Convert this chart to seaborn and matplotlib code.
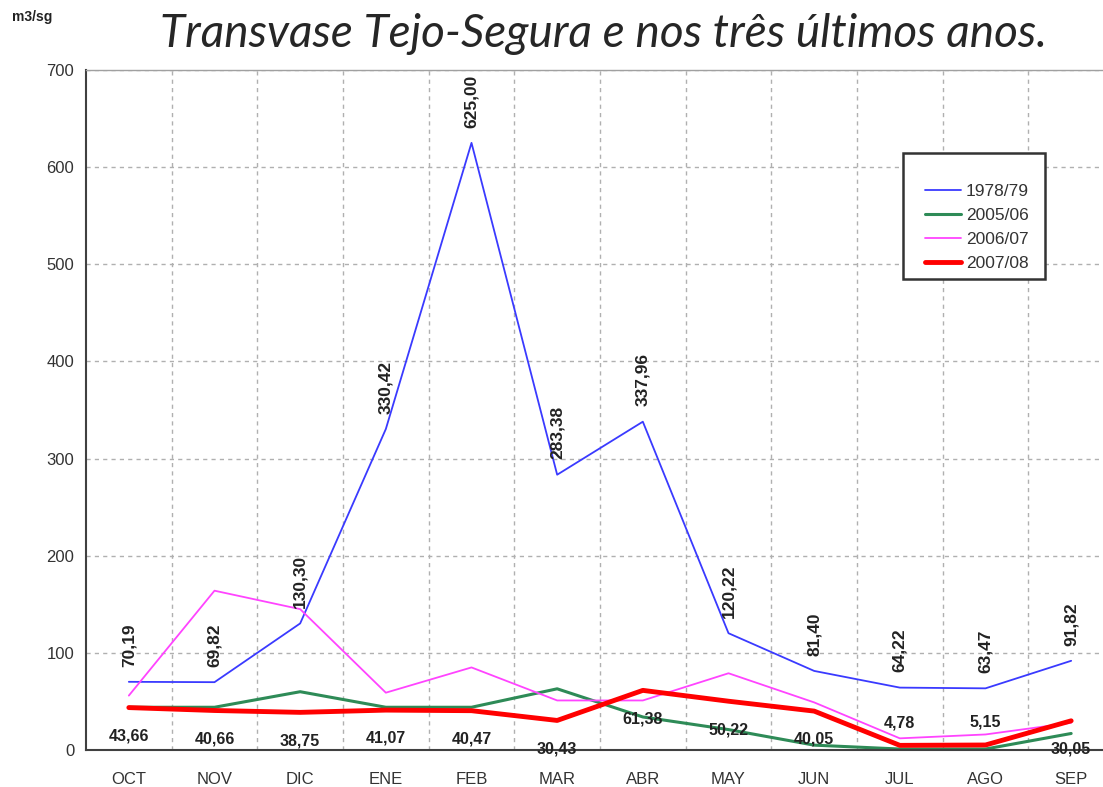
import matplotlib
matplotlib.use("Agg")
import matplotlib.pyplot as plt
import matplotlib.patches as mpatches
import seaborn as sns
import pandas as pd
import numpy as np

months = ["OCT", "NOV", "DIC", "ENE", "FEB", "MAR", "ABR", "MAY", "JUN", "JUL", "AGO", "SEP"]
s1978 = [70.19, 69.82, 130.30, 330.42, 625.00, 283.38, 337.96, 120.22, 81.40, 64.22, 63.47, 91.82]
s2005 = [44, 44, 60, 44, 44, 63, 34, 21, 5, 1, 1, 17]
s2006 = [56, 164, 145, 59, 85, 51, 51, 79, 49, 12, 16, 28]
s2007 = [43.66, 40.66, 38.75, 41.07, 40.47, 30.43, 61.38, 50.22, 40.05, 4.78, 5.15, 30.05]
series_names = ["1978/79", "2005/06", "2006/07", "2007/08"]
colors = ["#3a3aff", "#2e8b57", "#ff44ff", "#ff0000"]
widths = [1.3, 2.2, 1.3, 3.5]

sns.set_style("white")
plt.rcParams['font.family'] = ['Liberation Sans', 'DejaVu Sans']

fig = plt.figure(figsize=(11.03, 7.87), dpi=100)
W, H = 1103, 787
left, right, top, bottom = 86, 1114, 70, 750
ax = fig.add_axes([left / W, 1 - bottom / H, (right - left) / W, (bottom - top) / H])

idx = np.arange(len(months))
data = [s1978, s2005, s2006, s2007]
for name, vals, c, lw in zip(series_names, data, colors, widths):
    df = pd.DataFrame({"x": idx, "y": vals})
    sns.lineplot(data=df, x="x", y="y", ax=ax, color=c, linewidth=lw, label=name)

ax.set_xlim(-0.5, 11.5)
ax.set_ylim(0, 700)
ax.set_yticks(np.arange(0, 701, 100))
ax.set_xticks(idx)
ax.set_xticklabels(months)
ax.set_xticks(idx[:-1] + 0.5, minor=True)
ax.set_xlabel("")
ax.set_ylabel("")

ax.grid(False)
ax.yaxis.grid(True, linestyle=(0, (3, 3)), color="#b0b0b0", linewidth=1)
ax.xaxis.grid(True, which="minor", linestyle=(0, (3, 3)), color="#b0b0b0", linewidth=1)

ax.spines["right"].set_visible(False)
ax.spines["top"].set_color("#a0a0a0")
ax.spines["top"].set_linewidth(1)
ax.spines["left"].set_color("#404040")
ax.spines["left"].set_linewidth(1.5)
ax.spines["bottom"].set_color("#404040")
ax.spines["bottom"].set_linewidth(1.5)

ax.tick_params(axis="x", which="major", length=0, labelsize=12, pad=16)
ax.tick_params(axis="x", which="minor", length=6, width=1.3, direction="inout", color="#404040")
ax.tick_params(axis="y", which="major", length=5, width=1.2, direction="out", labelsize=12)
for lab in ax.get_yticklabels() + ax.get_xticklabels():
    lab.set_color("#333333")

def fmt(v):
    return f"{v:.2f}".replace(".", ",")

for i, v in enumerate(s1978):
    ax.annotate(fmt(v), (i, v), xytext=(0, 11), textcoords="offset points",
                rotation=90, ha="center", va="bottom", fontsize=12.5,
                fontweight="bold", color="#222222")

for i, v in enumerate(s2007):
    if v < 10:
        off, va = (0, 11), "bottom"
    else:
        off, va = (0, -15), "top"
    ax.annotate(fmt(v), (i, v), xytext=off, textcoords="offset points",
                ha="center", va=va, fontsize=11.5, fontweight="bold", color="#222222")

# legend box drawn as a rectangle, legend entries without frame
rect = mpatches.Rectangle((903 / W, 1 - 279 / H), (1045 - 903) / W, (279 - 153) / H,
                          transform=fig.transFigure, fill=True, facecolor="white",
                          edgecolor="#333333", linewidth=1.8, zorder=5, clip_on=False)
ax.add_patch(rect)
leg = ax.legend(loc="upper left",
                bbox_to_anchor=((925 - left) / (right - left), 1 - (184 - top) / (bottom - top)),
                frameon=False, fontsize=12.5, handlelength=2.1, borderpad=0,
                labelspacing=0.5, handletextpad=0.25, borderaxespad=0)
leg.set_zorder(6)
for t in leg.get_texts():
    t.set_color("#333333")

fig.text(12 / W, 1 - 17 / H, "m3/sg", fontsize=10, fontweight="bold", ha="left", va="center", color="#222222")
fig.text(603 / W, 1 - 47 / H, "Transvase Tejo-Segura e nos três últimos anos.",
         fontsize=33, style="italic", ha="center", va="baseline", family=["Lato", "DejaVu Sans"])

fig.savefig("out.png", dpi=100)
